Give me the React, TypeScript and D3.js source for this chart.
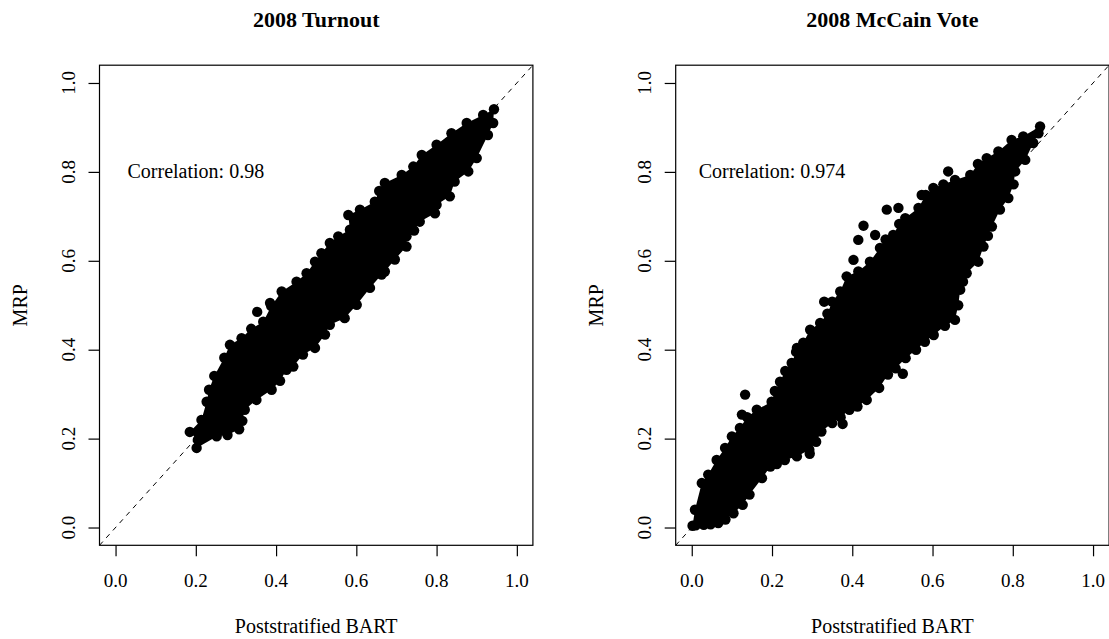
import React, { useEffect, useRef } from "react";
import * as d3 from "d3";

const panelTitles = ["2008 Turnout", "2008 McCain Vote"];
const correlations = ["Correlation: 0.98", "Correlation: 0.974"];
const tickValues = [0, 0.2, 0.4, 0.6, 0.8, 1.0];
const xLabel = "Poststratified BART";
const yLabel = "MRP";

const turnoutUpperEdge: [number, number][] = [
  [0.185, 0.215], [0.214, 0.242], [0.227, 0.283], [0.233, 0.31], [0.246, 0.341],
  [0.271, 0.382], [0.285, 0.411], [0.314, 0.426], [0.338, 0.447], [0.368, 0.463],
  [0.388, 0.498], [0.414, 0.531], [0.451, 0.553], [0.476, 0.572], [0.497, 0.598],
  [0.513, 0.617], [0.534, 0.64], [0.555, 0.655], [0.584, 0.67], [0.58, 0.703],
  [0.609, 0.715], [0.646, 0.733], [0.657, 0.757], [0.671, 0.775], [0.713, 0.793],
  [0.742, 0.812], [0.763, 0.838], [0.8, 0.861], [0.837, 0.887], [0.875, 0.91],
  [0.916, 0.928], [0.943, 0.941],
];
const turnoutLowerEdge: [number, number][] = [
  [0.941, 0.91], [0.928, 0.883], [0.9, 0.831], [0.879, 0.801], [0.845, 0.778],
  [0.833, 0.745], [0.8, 0.726], [0.796, 0.707], [0.758, 0.688], [0.744, 0.668],
  [0.725, 0.655], [0.725, 0.632], [0.696, 0.603], [0.671, 0.576], [0.663, 0.569],
  [0.634, 0.539], [0.601, 0.501], [0.571, 0.471], [0.534, 0.456], [0.522, 0.434],
  [0.497, 0.404], [0.467, 0.389], [0.443, 0.362], [0.426, 0.355], [0.41, 0.33],
  [0.389, 0.31], [0.351, 0.287], [0.322, 0.265], [0.316, 0.24], [0.308, 0.221],
  [0.279, 0.208], [0.252, 0.205], [0.202, 0.179], [0.205, 0.197],
];
const turnoutStray: [number, number][] = [
  [0.353, 0.485], [0.385, 0.505],
];

const mccainUpperEdge: [number, number][] = [
  [0.002, 0.004], [0.008, 0.04], [0.025, 0.1], [0.041, 0.119], [0.062, 0.152],
  [0.083, 0.179], [0.1, 0.205], [0.12, 0.224], [0.138, 0.248], [0.162, 0.265],
  [0.199, 0.283], [0.207, 0.307], [0.22, 0.328], [0.233, 0.352], [0.249, 0.37],
  [0.26, 0.395], [0.278, 0.416], [0.295, 0.445], [0.32, 0.46], [0.338, 0.481],
  [0.35, 0.508], [0.37, 0.531], [0.386, 0.565], [0.415, 0.576], [0.444, 0.598],
  [0.469, 0.629], [0.483, 0.648], [0.502, 0.658], [0.517, 0.683], [0.532, 0.696],
  [0.565, 0.719], [0.583, 0.748], [0.602, 0.764], [0.627, 0.772], [0.656, 0.782],
  [0.694, 0.793], [0.713, 0.818], [0.735, 0.831], [0.764, 0.846], [0.797, 0.872],
  [0.826, 0.88], [0.868, 0.902],
];
const mccainLowerEdge: [number, number][] = [
  [0.864, 0.887], [0.851, 0.865], [0.831, 0.827], [0.806, 0.801], [0.802, 0.772],
  [0.789, 0.741], [0.768, 0.715], [0.748, 0.677], [0.738, 0.656], [0.727, 0.632],
  [0.714, 0.598], [0.685, 0.572], [0.676, 0.553], [0.669, 0.535], [0.664, 0.5],
  [0.656, 0.467], [0.631, 0.454], [0.603, 0.433], [0.581, 0.418], [0.559, 0.4],
  [0.533, 0.381], [0.508, 0.358], [0.489, 0.344], [0.467, 0.314], [0.436, 0.287],
  [0.413, 0.272], [0.393, 0.265], [0.371, 0.248], [0.35, 0.235], [0.323, 0.216],
  [0.31, 0.193], [0.293, 0.175], [0.262, 0.16], [0.232, 0.152], [0.212, 0.143],
  [0.196, 0.137], [0.175, 0.111], [0.144, 0.074], [0.127, 0.051], [0.104, 0.032],
  [0.084, 0.018], [0.066, 0.01], [0.047, 0.007], [0.03, 0.006], [0.01, 0.005],
];
const mccainStray: [number, number][] = [
  [0.133, 0.299], [0.125, 0.254], [0.33, 0.508], [0.403, 0.602], [0.415, 0.647],
  [0.457, 0.658], [0.428, 0.679], [0.486, 0.715], [0.515, 0.719], [0.573, 0.748],
  [0.639, 0.801], [0.526, 0.346], [0.294, 0.166], [0.376, 0.233], [0.262, 0.404],
];

const panels = [
  { title: panelTitles[0], note: correlations[0], upper: turnoutUpperEdge, lower: turnoutLowerEdge, stray: turnoutStray },
  { title: panelTitles[1], note: correlations[1], upper: mccainUpperEdge, lower: mccainLowerEdge, stray: mccainStray },
];

const App = () => {
  const svgRef = useRef<SVGSVGElement>(null);

  useEffect(() => {
    const width = 1109;
    const height = 639;
    const plotLefts = [99.5, 675.7];
    const plotWidth = 433.4;
    const plotTop = 65.2;
    const plotBottom = 545.3;
    const font = "'Liberation Serif', 'Times New Roman', serif";

    const svg = d3.select(svgRef.current).attr("width", width).attr("height", height);
    svg.selectAll("*").remove();

    panels.forEach((p, i) => {
      const left = plotLefts[i];
      const x = d3.scaleLinear().domain([-0.04, 1.04]).range([left, left + plotWidth]);
      const y = d3.scaleLinear().domain([-0.04, 1.04]).range([plotBottom, plotTop]);
      const g = svg.append("g");

      const clipId = `clip${i}`;
      g.append("clipPath").attr("id", clipId)
        .append("rect")
        .attr("x", left).attr("y", plotTop)
        .attr("width", plotWidth).attr("height", plotBottom - plotTop);

      const plot = g.append("g").attr("clip-path", `url(#${clipId})`);
      const line = d3.line<[number, number]>().x(d => x(d[0])).y(d => y(d[1]));

      // solid body of the cloud
      plot.append("path")
        .attr("d", line([...p.upper, ...p.lower]) + "Z")
        .attr("fill", "black");

      plot.selectAll("circle")
        .data([...p.upper, ...p.lower, ...p.stray])
        .enter()
        .append("circle")
        .attr("cx", d => x(d[0]))
        .attr("cy", d => y(d[1]))
        .attr("r", 5.2)
        .attr("fill", "black");

      // 45 degree reference line
      plot.append("path")
        .attr("d", line([[-0.04, -0.04], [1.04, 1.04]]))
        .attr("fill", "none")
        .attr("stroke", "black")
        .attr("stroke-width", 1)
        .attr("stroke-dasharray", "5,5");

      g.append("rect")
        .attr("x", left).attr("y", plotTop)
        .attr("width", plotWidth).attr("height", plotBottom - plotTop)
        .attr("fill", "none").attr("stroke", "black").attr("stroke-width", 1.2);

      const xAxis = g.append("g")
        .attr("transform", `translate(0, ${plotBottom})`)
        .call(d3.axisBottom(x).tickValues(tickValues).tickSize(11).tickFormat(() => ""));
      xAxis.select(".domain").remove();

      const yAxis = g.append("g")
        .attr("transform", `translate(${left}, 0)`)
        .call(d3.axisLeft(y).tickValues(tickValues).tickSize(11).tickFormat(() => ""));
      yAxis.select(".domain").remove();
      g.selectAll(".tick line").attr("stroke", "black").attr("stroke-width", 1.2);

      g.selectAll(".xlab")
        .data(tickValues)
        .enter()
        .append("text")
        .attr("x", d => x(d))
        .attr("y", 587)
        .attr("text-anchor", "middle")
        .style("font-family", font)
        .style("font-size", "19px")
        .text(d => d3.format(".1f")(d));

      g.selectAll(".ylab")
        .data(tickValues)
        .enter()
        .append("text")
        .attr("transform", d => `translate(${left - 24.5}, ${y(d)}) rotate(-90)`)
        .attr("text-anchor", "middle")
        .style("font-family", font)
        .style("font-size", "19px")
        .text(d => d3.format(".1f")(d));

      g.append("text")
        .attr("x", left + plotWidth / 2)
        .attr("y", 633)
        .attr("text-anchor", "middle")
        .style("font-family", font)
        .style("font-size", "20px")
        .text(xLabel);

      g.append("text")
        .attr("transform", `translate(${left - 72.5}, ${(plotTop + plotBottom) / 2}) rotate(-90)`)
        .attr("text-anchor", "middle")
        .style("font-family", font)
        .style("font-size", "20px")
        .text(yLabel);

      g.append("text")
        .attr("x", left + plotWidth / 2)
        .attr("y", 26.5)
        .attr("text-anchor", "middle")
        .style("font-family", font)
        .style("font-weight", "bold")
        .style("font-size", "22px")
        .text(p.title);

      g.append("text")
        .attr("x", x(0.2))
        .attr("y", y(0.8) + 6.5)
        .attr("text-anchor", "middle")
        .style("font-family", font)
        .style("font-size", "20px")
        .text(p.note);
    });
  }, []);

  return (
    <svg
      ref={svgRef}
      style={{ position: "absolute", left: 0, top: 0, background: "white" }}
    ></svg>
  );
};

export default App;
